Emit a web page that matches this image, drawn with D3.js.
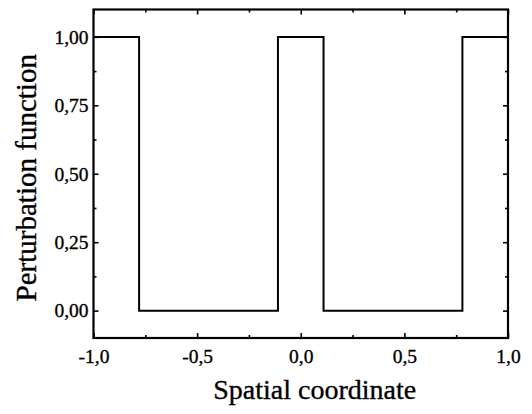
<!DOCTYPE html>
<html>
<head>
<meta charset="utf-8">
<script src="https://cdn.jsdelivr.net/npm/d3@7"></script>
<style>
  html, body { margin: 0; padding: 0; background: #fff; }
  svg { display: block; }
</style>
</head>
<body>
<svg id="chart" width="532" height="414"></svg>
<script>
// Step perturbation function: value on each interval between consecutive edges
const edges = [-1, -0.78, -0.11, 0.11, 0.78, 1];
const levels = [1, 0, 1, 0, 1];

const xTicks = [-1, -0.5, 0, 0.5, 1];
const xTickLabels = ["-1,0", "-0,5", "0,0", "0,5", "1,0"];
const yTicks = [0, 0.25, 0.5, 0.75, 1];
const yTickLabels = ["0,00", "0,25", "0,50", "0,75", "1,00"];

const xTitle = "Spatial coordinate";
const yTitle = "Perturbation function";

const FONT = '"Liberation Serif", "Times New Roman", Times, "DejaVu Serif", serif';

const W = 532, H = 414;
const m = { left: 93.5, right: 24, top: 9.5, bottom: 76 };

const svg = d3.select("#chart");
const x = d3.scaleLinear().domain([-1, 1]).range([m.left, W - m.right]);
const y = d3.scaleLinear().domain([-0.1, 1.1]).range([H - m.bottom, m.top]);

const xMinor = d3.range(-1, 1.001, 0.25).filter(v => !xTicks.some(t => Math.abs(t - v) < 1e-6));
const yMinor = d3.range(-0.125, 1.1, 0.125).filter(v => v > -0.1 && v < 1.1 && !yTicks.some(t => Math.abs(t - v) < 1e-6));

// Inward ticks on all four sides
function tickAxes(g, axisFn, scale, major, minor, labels) {
  const aMajor = axisFn(scale).tickValues(major).tickSizeInner(-5).tickSizeOuter(0)
    .tickFormat((d, i) => labels ? labels[i] : "");
  const aMinor = axisFn(scale).tickValues(minor).tickSizeInner(-3).tickSizeOuter(0).tickFormat("");
  g.append("g").call(aMinor).call(s => s.select(".domain").remove());
  const gm = g.append("g").call(aMajor);
  gm.select(".domain").remove();
  return gm;
}

function styleText(sel, size) {
  sel.style("font-family", FONT).style("font-size", size + "px")
    .style("fill", "#000").style("stroke", "#000").style("stroke-width", "0.35px");
}

const gx = svg.append("g").attr("transform", `translate(0,${H - m.bottom})`);
const bx = tickAxes(gx, d3.axisBottom, x, xTicks, xMinor, xTickLabels);
bx.selectAll("text").attr("dy", "1.28em").attr("y", 0).call(styleText, 19.5);

const gt = svg.append("g").attr("transform", `translate(0,${m.top})`);
tickAxes(gt, d3.axisTop, x, xTicks, xMinor, null);

const gy = svg.append("g").attr("transform", `translate(${m.left},0)`);
const ly = tickAxes(gy, d3.axisLeft, y, yTicks, yMinor, yTickLabels);
ly.selectAll("text").attr("x", -5).call(styleText, 19.5);

const gr = svg.append("g").attr("transform", `translate(${W - m.right},0)`);
tickAxes(gr, d3.axisRight, y, yTicks, yMinor, null);

svg.selectAll(".tick line").attr("stroke", "#000").attr("stroke-width", 1.6);

// Frame
svg.append("rect")
  .attr("x", m.left).attr("y", m.top)
  .attr("width", W - m.left - m.right).attr("height", H - m.top - m.bottom)
  .attr("fill", "none").attr("stroke", "#000").attr("stroke-width", 2.2);

// Step curve
const pts = edges.map((e, i) => [e, levels[Math.min(i, levels.length - 1)]]);
const line = d3.line().x(d => x(d[0])).y(d => y(d[1])).curve(d3.curveStepAfter);
svg.append("path")
  .datum(pts)
  .attr("d", line)
  .attr("fill", "none")
  .attr("stroke", "#000")
  .attr("stroke-width", 2);

// Axis titles
svg.append("text")
  .attr("x", (m.left + W - m.right) / 2 + 14).attr("y", 399)
  .attr("text-anchor", "middle")
  .call(styleText, 28)
  .text(xTitle);

svg.append("text")
  .attr("transform", `translate(36,${(m.top + H - m.bottom) / 2 + 4}) rotate(-90)`)
  .attr("text-anchor", "middle")
  .call(styleText, 29)
  .text(yTitle);
</script>
</body>
</html>
